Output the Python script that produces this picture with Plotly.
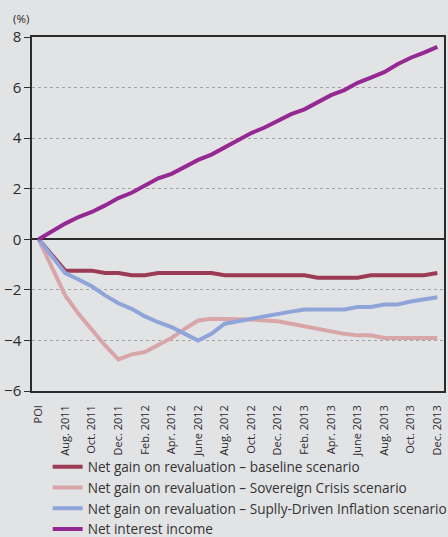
import plotly.graph_objects as go

# ---- data ----
periods = ["POI", "July 2011", "Aug. 2011", "Sep. 2011", "Oct. 2011", "Nov. 2011", "Dec. 2011",
           "Jan. 2012", "Feb. 2012", "Mar. 2012", "Apr. 2012", "May 2012", "June 2012",
           "July 2012", "Aug. 2012", "Sep. 2012", "Oct. 2012", "Nov. 2012", "Dec. 2012",
           "Jan. 2013", "Feb. 2013", "Mar. 2013", "Apr. 2013", "May 2013", "June 2013",
           "July 2013", "Aug. 2013", "Sep. 2013", "Oct. 2013", "Nov. 2013", "Dec. 2013"]

baseline = [0, -0.6, -1.24, -1.24, -1.24, -1.33, -1.33, -1.42, -1.42, -1.33, -1.33,
            -1.33, -1.33, -1.33, -1.42, -1.42, -1.42, -1.42, -1.42, -1.42, -1.42,
            -1.52, -1.52, -1.52, -1.52, -1.42, -1.42, -1.42, -1.42, -1.42, -1.33]

sovereign = [0, -1.1, -2.22, -2.95, -3.6, -4.2, -4.75, -4.55, -4.46, -4.2, -3.9,
             -3.54, -3.21, -3.14, -3.14, -3.14, -3.17, -3.21, -3.24, -3.34, -3.45,
             -3.54, -3.64, -3.74, -3.8, -3.8, -3.9, -3.9, -3.9, -3.9, -3.9]

inflation = [0, -0.7, -1.34, -1.59, -1.86, -2.22, -2.53, -2.75, -3.05, -3.28, -3.47,
             -3.74, -4.0, -3.74, -3.34, -3.24, -3.14, -3.05, -2.95, -2.86, -2.78,
             -2.78, -2.78, -2.78, -2.68, -2.68, -2.58, -2.58, -2.46, -2.38, -2.29]

net_interest = [0, 0.31, 0.62, 0.88, 1.08, 1.34, 1.63, 1.84, 2.13, 2.41, 2.59,
                2.87, 3.14, 3.35, 3.64, 3.92, 4.2, 4.42, 4.69, 4.95, 5.14,
                5.43, 5.7, 5.9, 6.19, 6.39, 6.61, 6.92, 7.18, 7.38, 7.61]

series_names = [
    "Net gain on revaluation – baseline scenario",
    "Net gain on revaluation – Sovereign Crisis scenario",
    "Net gain on revaluation – Suplly-Driven Inflation scenario",
    "Net interest income",
]
series_values = [baseline, sovereign, inflation, net_interest]
series_colors = ["#9c3b55", "#d8a6a8", "#8fa5d9", "#962893"]

y_ticks = [-6, -4, -2, 0, 2, 4, 6, 8]
label_idx = list(range(0, len(periods), 2))
label_text = [periods[i] for i in label_idx]
minor_tick_pos = [1.45 + 2 * k for k in range(15)]

FONT = "Open Sans, Noto Sans, sans-serif"
BG = "#e2e3e5"

fig = go.Figure()
for name, vals, col in zip(series_names, series_values, series_colors):
    fig.add_trace(go.Scatter(
        x=list(range(len(periods))), y=vals, name=name, mode="lines",
        line=dict(color=col, width=4),
    ))

fig.update_layout(
    width=448, height=537,
    paper_bgcolor=BG, plot_bgcolor=BG,
    margin=dict(l=32, r=4, t=37, b=146, autoexpand=False),
    font=dict(family=FONT, color="#2a2a2a"),
    showlegend=True,
    legend=dict(
        x=0.038, y=-0.171, xanchor="left", yanchor="top",
        orientation="v", bgcolor="rgba(0,0,0,0)",
        font=dict(size=13.6, color="#333333", family=FONT),
        itemwidth=30,
    ),
    xaxis=dict(
        range=[-0.5, len(periods) - 0.5],
        tickvals=label_idx, ticktext=label_text,
        tickangle=-90, ticks="", ticklabelstandoff=8,
        tickfont=dict(size=11, family=FONT, color="#2a2a2a"),
        showgrid=False, zeroline=False,
        showline=True, linecolor="#2b2b2b", linewidth=1.5, mirror=True,
    ),
    xaxis2=dict(
        overlaying="x", anchor="free", position=6 / 14, side="bottom",
        range=[-0.5, len(periods) - 0.5],
        tickvals=minor_tick_pos, ticks="outside", ticklen=5, tickwidth=1.3,
        tickcolor="#2b2b2b", showticklabels=False,
        showgrid=False, zeroline=False, showline=False,
    ),
    yaxis=dict(
        range=[-6, 8], tickvals=y_ticks,
        ticks="outside", ticklen=6, tickwidth=1.3, tickcolor="#2b2b2b",
        tickfont=dict(size=15, family=FONT, color="#2a2a2a"),
        showgrid=True, gridcolor="#a3a3a3", griddash="dot", gridwidth=1,
        zeroline=True, zerolinecolor="#2b2b2b", zerolinewidth=1.5,
        showline=True, linecolor="#2b2b2b", linewidth=1.5, mirror=True,
    ),
    annotations=[dict(
        text="(%)", xref="paper", yref="paper", x=-0.05, y=1.052,
        xanchor="left", yanchor="middle", showarrow=False,
        font=dict(size=11.5, family=FONT, color="#2a2a2a"),
    )],
)

fig.write_html(
    "out.html",
    config={"displayModeBar": False},
    post_script="document.body.style.margin='0';document.body.style.background='#e2e3e5';",
)
